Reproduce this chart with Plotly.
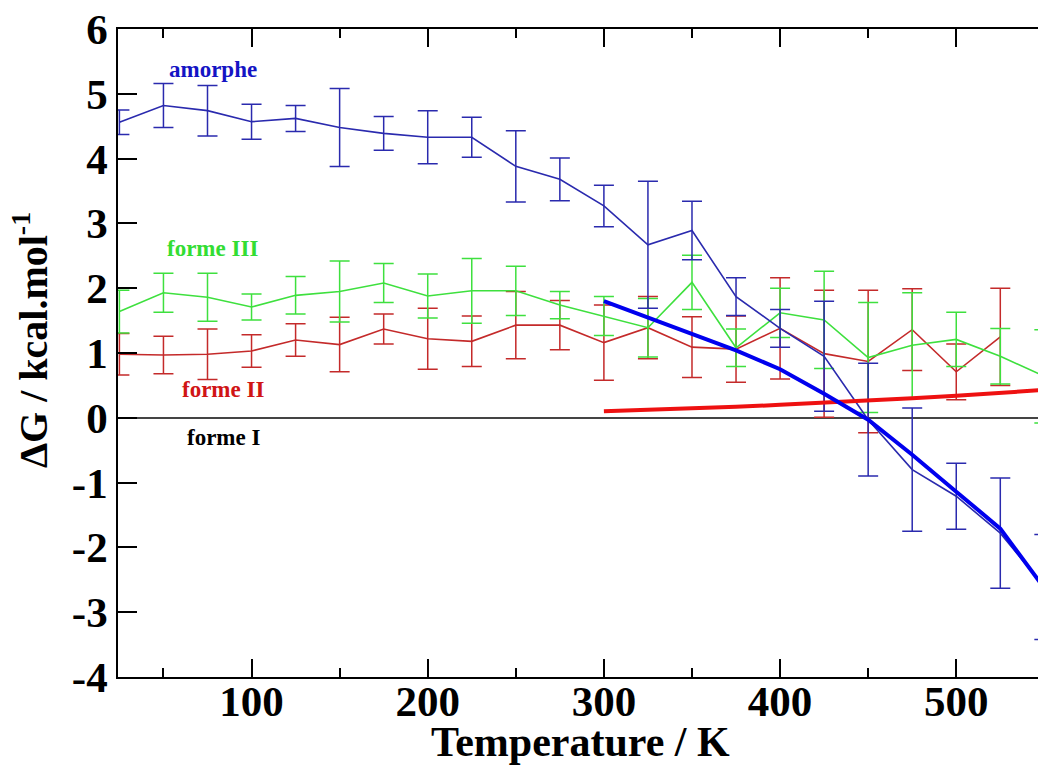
import plotly.graph_objects as go

T = [25, 50, 75, 100, 125, 150, 175, 200, 225, 250, 275, 300, 325, 350, 375,
     400, 425, 450, 475, 500, 525, 550]

amorphe = [4.56, 4.82, 4.74, 4.57, 4.62, 4.48, 4.39, 4.33, 4.33, 3.88, 3.68,
           3.27, 2.67, 2.89, 1.87, 1.38, 0.95, -0.03, -0.80, -1.21, -1.78, -2.61]
amorphe_err = [0.19, 0.34, 0.39, 0.27, 0.20, 0.60, 0.26, 0.41, 0.31, 0.55, 0.33,
               0.32, 0.98, 0.45, 0.29, 0.29, 0.85, 0.87, 0.95, 0.51, 0.85, 0.81]

forme3 = [1.64, 1.93, 1.86, 1.71, 1.89, 1.95, 2.08, 1.88, 1.96, 1.96, 1.74,
          1.57, 1.39, 2.09, 1.08, 1.62, 1.51, 0.93, 1.12, 1.21, 0.95, 0.64]
forme3_err = [0.33, 0.30, 0.37, 0.20, 0.29, 0.47, 0.30, 0.34, 0.50, 0.38, 0.21,
              0.30, 0.45, 0.42, 0.29, 0.38, 0.75, 0.85, 0.81, 0.42, 0.43, 0.72]

T2 = T[:-1]
forme2 = [0.98, 0.97, 0.98, 1.03, 1.20, 1.13, 1.37, 1.22, 1.18, 1.43, 1.43,
          1.16, 1.39, 1.09, 1.06, 1.38, 0.99, 0.87, 1.36, 0.71, 1.25]
forme2_err = [0.32, 0.29, 0.39, 0.25, 0.25, 0.42, 0.23, 0.47, 0.39, 0.52, 0.38,
              0.58, 0.48, 0.47, 0.51, 0.78, 0.98, 1.10, 0.63, 0.43, 0.75]

T_fit = [300, 325, 350, 375, 400, 425, 450, 475, 500, 525, 550]
amorphe_fit = [1.80, 1.55, 1.30, 1.04, 0.75, 0.37, -0.03, -0.57, -1.14, -1.71, -2.63]
forme2_fit = [0.10, 0.12, 0.14, 0.17, 0.20, 0.23, 0.26, 0.30, 0.34, 0.38, 0.43]

y_ticks = [-4, -3, -2, -1, 0, 1, 2, 3, 4, 5, 6]
y_ticktext = ["-4", "-3", "-2", "-1", "0", "1", "2", "3", "4", "5", "6"]
x_ticks = [100, 200, 300, 400, 500]

SERIF = "Liberation Serif, Times New Roman, serif"
BLUE = "#2a2aae"
GREEN = "#3ee03e"
RED = "#c42a2a"

fig = go.Figure()

def err(vals, color):
    return dict(type="data", array=vals, visible=True, color=color,
                thickness=1.5, width=10)

fig.add_trace(go.Scatter(x=T2, y=forme2, mode="lines", line=dict(color=RED, width=1.6),
                         error_y=err(forme2_err, RED), name="forme II"))
fig.add_trace(go.Scatter(x=T, y=forme3, mode="lines", line=dict(color=GREEN, width=1.6),
                         error_y=err(forme3_err, GREEN), name="forme III"))
fig.add_trace(go.Scatter(x=T, y=amorphe, mode="lines", line=dict(color=BLUE, width=1.6),
                         error_y=err(amorphe_err, BLUE), name="amorphe"))
fig.add_trace(go.Scatter(x=T_fit, y=forme2_fit, mode="lines",
                         line=dict(color="#ee1111", width=4), name="fit II"))
fig.add_trace(go.Scatter(x=T_fit, y=amorphe_fit, mode="lines",
                         line=dict(color="#0000ee", width=4), name="fit amorphe"))

labels = [("amorphe", 78, 5.38, "#1414c4"), ("forme III", 78, 2.62, "#33dd33"),
          ("forme II", 84, 0.43, "#d01515"), ("forme I", 84, -0.31, "#000000")]
for txt, lx, ly, c in labels:
    fig.add_annotation(x=lx, y=ly, text="<b>%s</b>" % txt, showarrow=False,
                       font=dict(family=SERIF, size=23, color=c),
                       xanchor="center", yanchor="middle")

fig.add_annotation(xref="paper", yref="paper", x=0, y=0.52, xshift=-88,
                   text="<b>ΔG / kcal.mol<sup>-1</sup></b>", textangle=-90,
                   showarrow=False, font=dict(family=SERIF, size=40, color="black"),
                   xanchor="center", yanchor="middle")
fig.add_annotation(xref="paper", yref="paper", x=0.503, y=0, yshift=-65,
                   text="<b>Temperature / K</b>", showarrow=False,
                   font=dict(family=SERIF, size=42, color="black"),
                   xanchor="center", yanchor="middle")

fig.update_layout(
    width=1038, height=765,
    margin=dict(l=118, r=0, t=29, b=88),
    plot_bgcolor="white", paper_bgcolor="white",
    showlegend=False,
    xaxis=dict(range=[24.2, 546.4], tickmode="array", tickvals=x_ticks,
               ticks="inside", ticklen=18, tickwidth=1.5, tickcolor="black",
               showline=True, linecolor="black", linewidth=1.5, mirror="ticks",
               showgrid=False, zeroline=False, ticklabelstandoff=-14,
               minor=dict(ticks="inside", ticklen=9, tickwidth=1.5, tickcolor="black",
                          tickvals=[50, 150, 250, 350, 450, 550], showgrid=False),
               tickfont=dict(family=SERIF, size=43, color="black", weight="bold")),
    yaxis=dict(range=[-4, 6], tickmode="array", tickvals=y_ticks, ticktext=y_ticktext,
               ticks="inside", ticklen=19, tickwidth=1.5, tickcolor="black",
               showline=True, linecolor="black", linewidth=1.5,
               showgrid=False, zeroline=True, zerolinecolor="#444444", zerolinewidth=1.8,
               tickfont=dict(family=SERIF, size=43, color="black", weight="bold")),
)

fig.write_html("out.html")
